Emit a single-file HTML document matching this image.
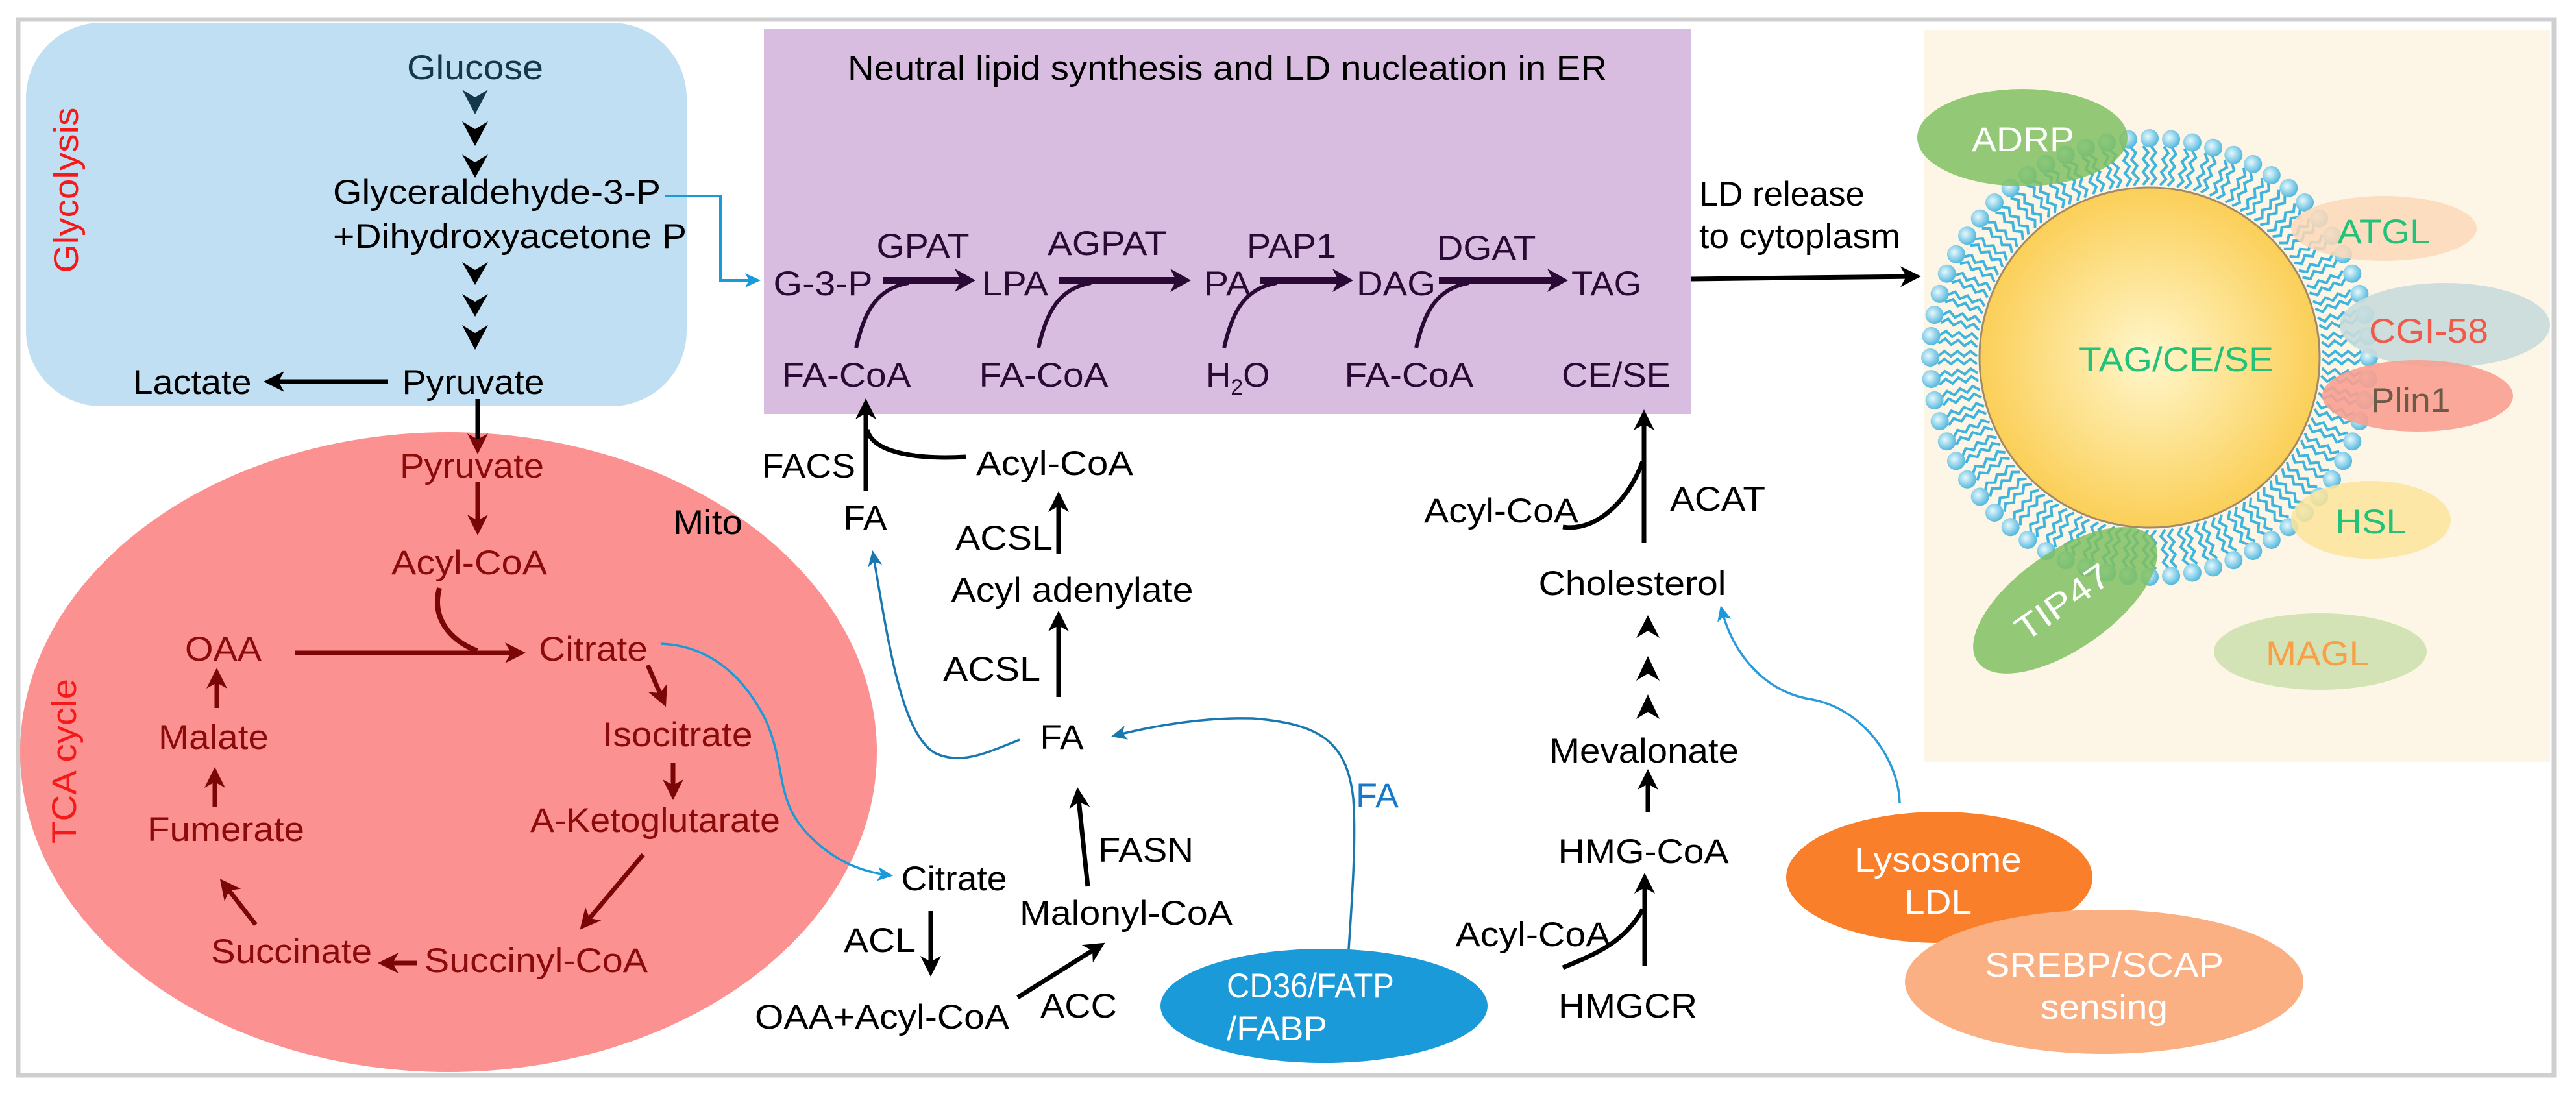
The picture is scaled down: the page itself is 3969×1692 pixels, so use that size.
<!DOCTYPE html>
<html><head><meta charset="utf-8"><style>
html,body{margin:0;padding:0;background:#fff}
svg{display:block}
text{font-family:"Liberation Sans",Arial,sans-serif;font-size:53px}
</style></head><body>
<svg id="s" xmlns="http://www.w3.org/2000/svg" width="3969" height="1692" viewBox="0 0 3969 1692">
<defs>
<marker id="ab" markerUnits="userSpaceOnUse" viewBox="0 0 32 32" refX="22" refY="16" markerWidth="32" markerHeight="32" orient="auto"><path d="M0,0 L32,16 L0,32 L9,16 Z" fill="#000"/></marker>
<marker id="ar" markerUnits="userSpaceOnUse" viewBox="0 0 32 32" refX="22" refY="16" markerWidth="32" markerHeight="32" orient="auto"><path d="M0,0 L32,16 L0,32 L9,16 Z" fill="#7a0606"/></marker>
<marker id="ap" markerUnits="userSpaceOnUse" viewBox="0 0 32 36" refX="22" refY="18" markerWidth="32" markerHeight="36" orient="auto"><path d="M0,0 L32,18 L0,36 L9,18 Z" fill="#2a0a35"/></marker>
<marker id="abl" markerUnits="userSpaceOnUse" viewBox="0 0 24 22" refX="20" refY="11" markerWidth="24" markerHeight="22" orient="auto"><path d="M0,0 L24,11 L0,22 L6,11 Z" fill="#1a9ad8"/></marker>
<marker id="abt" markerUnits="userSpaceOnUse" viewBox="0 0 24 22" refX="20" refY="11" markerWidth="24" markerHeight="22" orient="auto"><path d="M0,0 L24,11 L0,22 L6,11 Z" fill="#1a78b0"/></marker>
<radialGradient id="drop" cx="0.5" cy="0.5" r="0.5"><stop offset="0" stop-color="#fff7cc"/><stop offset="1" stop-color="#fbcf58"/></radialGradient>
<radialGradient id="head" cx="0.4" cy="0.4" r="0.6"><stop offset="0" stop-color="#e8f8fd"/><stop offset="1" stop-color="#55b9de"/></radialGradient>
</defs>

<rect x="28" y="30" width="3907" height="1627" fill="#fff" stroke="#cfcfcf" stroke-width="7"/>

<rect x="40" y="35" width="1018" height="591" rx="116" fill="#c1dff2"/>
<text transform="translate(120,293) rotate(-90)" text-anchor="middle" fill="#f41a1a" font-size="66" textLength="255" lengthAdjust="spacingAndGlyphs">Glycolysis</text>
<text x="732" y="122" text-anchor="middle" fill="#12384a" textLength="210" lengthAdjust="spacingAndGlyphs">Glucose</text>
<g fill="#000">
<polygon points="712,138 732,150 752,138 732,176" fill="#12384a"/>
<polygon points="712,187 732,199 752,187 732,225"/>
<polygon points="712,238 732,250 752,238 732,274"/>
<polygon points="712,404 732,416 752,404 732,439"/>
<polygon points="712,453 732,465 752,453 732,488"/>
<polygon points="712,501 732,513 752,501 732,539"/>
</g>
<text x="513" y="314" textLength="505" lengthAdjust="spacingAndGlyphs">Glyceraldehyde-3-P</text>
<text x="513" y="382" textLength="545" lengthAdjust="spacingAndGlyphs">+Dihydroxyacetone P</text>
<text x="729" y="607" text-anchor="middle" textLength="219" lengthAdjust="spacingAndGlyphs">Pyruvate</text>
<text x="296" y="607" text-anchor="middle" textLength="183" lengthAdjust="spacingAndGlyphs">Lactate</text>
<line x1="598" y1="588" x2="416" y2="588" stroke="#000" stroke-width="7" marker-end="url(#ab)"/>
<polyline points="1025,302 1110,302 1110,432 1168,432" fill="none" stroke="#1a9ad8" stroke-width="4" marker-end="url(#abl)"/>

<ellipse cx="691" cy="1159" rx="660" ry="493" fill="#fc9191"/>
<line x1="736" y1="615" x2="736" y2="690" stroke="#000" stroke-width="7" marker-end="url(#ar)"/>
<g fill="#8b0a0a">
<text x="727" y="736" text-anchor="middle" textLength="222" lengthAdjust="spacingAndGlyphs">Pyruvate</text>
<text x="723" y="885" text-anchor="middle" textLength="240" lengthAdjust="spacingAndGlyphs">Acyl-CoA</text>
<text x="344" y="1018" text-anchor="middle" textLength="118" lengthAdjust="spacingAndGlyphs">OAA</text>
<text x="914" y="1018" text-anchor="middle" textLength="168" lengthAdjust="spacingAndGlyphs">Citrate</text>
<text x="1044" y="1150" text-anchor="middle" textLength="231" lengthAdjust="spacingAndGlyphs">Isocitrate</text>
<text x="817" y="1282" textLength="385" lengthAdjust="spacingAndGlyphs">A-Ketoglutarate</text>
<text x="329" y="1154" text-anchor="middle" textLength="170" lengthAdjust="spacingAndGlyphs">Malate</text>
<text x="348" y="1296" text-anchor="middle" textLength="242" lengthAdjust="spacingAndGlyphs">Fumerate</text>
<text x="449" y="1484" text-anchor="middle" textLength="248" lengthAdjust="spacingAndGlyphs">Succinate</text>
<text x="826" y="1498" text-anchor="middle" textLength="344" lengthAdjust="spacingAndGlyphs">Succinyl-CoA</text>
</g>
<text x="1037" y="823" textLength="107" lengthAdjust="spacingAndGlyphs">Mito</text>
<text transform="translate(117,1173) rotate(-90)" text-anchor="middle" fill="#f41a1a" font-size="64" textLength="254" lengthAdjust="spacingAndGlyphs">TCA cycle</text>
<g stroke="#7a0606" stroke-width="7" fill="none">
<line x1="736" y1="743" x2="736" y2="815" marker-end="url(#ar)"/>
<line x1="455" y1="1006" x2="800" y2="1006" marker-end="url(#ar)"/>
<path d="M677,906 C665,950 690,985 735,1003" stroke-width="8"/>
<line x1="998" y1="1025" x2="1022" y2="1080" marker-end="url(#ar)"/>
<line x1="1037" y1="1175" x2="1037" y2="1223" marker-end="url(#ar)"/>
<line x1="991" y1="1317" x2="900" y2="1425" marker-end="url(#ar)"/>
<line x1="643" y1="1484" x2="592" y2="1484" marker-end="url(#ar)"/>
<line x1="394" y1="1425" x2="345" y2="1362" marker-end="url(#ar)"/>
<line x1="331" y1="1244" x2="331" y2="1192" marker-end="url(#ar)"/>
<line x1="334" y1="1091" x2="334" y2="1039" marker-end="url(#ar)"/>
</g>
<path d="M1018,992 C1100,995 1150,1050 1180,1110 C1215,1190 1190,1240 1260,1300 C1300,1335 1340,1345 1372,1349" fill="none" stroke="#1a9ad8" stroke-width="3.5" marker-end="url(#abl)"/>

<rect x="1177" y="45" width="1428" height="593" fill="#d9bde0"/>
<text x="1891" y="123" text-anchor="middle" textLength="1170" lengthAdjust="spacingAndGlyphs">Neutral lipid synthesis and LD nucleation in ER</text>
<g fill="#2a0a35">
<text x="1268" y="455" text-anchor="middle" textLength="153" lengthAdjust="spacingAndGlyphs">G-3-P</text>
<text x="1564" y="455" text-anchor="middle" textLength="102" lengthAdjust="spacingAndGlyphs">LPA</text>
<text x="1891" y="455" text-anchor="middle" textLength="72" lengthAdjust="spacingAndGlyphs">PA</text>
<text x="2151" y="455" text-anchor="middle" textLength="122" lengthAdjust="spacingAndGlyphs">DAG</text>
<text x="2475" y="455" text-anchor="middle" textLength="108" lengthAdjust="spacingAndGlyphs">TAG</text>
<text x="1422" y="397" text-anchor="middle" textLength="143" lengthAdjust="spacingAndGlyphs">GPAT</text>
<text x="1706" y="393" text-anchor="middle" textLength="184" lengthAdjust="spacingAndGlyphs">AGPAT</text>
<text x="1990" y="397" text-anchor="middle" textLength="138" lengthAdjust="spacingAndGlyphs">PAP1</text>
<text x="2290" y="400" text-anchor="middle" textLength="153" lengthAdjust="spacingAndGlyphs">DGAT</text>
<text x="1304" y="596" text-anchor="middle" textLength="199" lengthAdjust="spacingAndGlyphs">FA-CoA</text>
<text x="1608" y="596" text-anchor="middle" textLength="199" lengthAdjust="spacingAndGlyphs">FA-CoA</text>
<text x="1858" y="596">H<tspan font-size="34" dy="12">2</tspan><tspan dy="-12">O</tspan></text>
<text x="2171" y="596" text-anchor="middle" textLength="199" lengthAdjust="spacingAndGlyphs">FA-CoA</text>
<text x="2490" y="596" text-anchor="middle" textLength="168" lengthAdjust="spacingAndGlyphs">CE/SE</text>
</g>
<g stroke="#2a0a35" stroke-width="10" fill="none">
<line x1="1360" y1="432" x2="1493" y2="432" marker-end="url(#ap)"/>
<line x1="1631" y1="432" x2="1825" y2="432" marker-end="url(#ap)"/>
<line x1="1942" y1="432" x2="2075" y2="432" marker-end="url(#ap)"/>
<line x1="2217" y1="432" x2="2406" y2="432" marker-end="url(#ap)"/>
</g>
<g stroke="#2a0a35" stroke-width="6" fill="none">
<path d="M1319,536 C1332,480 1350,445 1400,436"/>
<path d="M1600,536 C1613,480 1631,445 1681,436"/>
<path d="M1886,536 C1899,480 1917,445 1967,436"/>
<path d="M2182,536 C2195,480 2213,445 2263,436"/>
</g>
<text x="2618" y="317" textLength="255" lengthAdjust="spacingAndGlyphs">LD release</text>
<text x="2618" y="382" textLength="310" lengthAdjust="spacingAndGlyphs">to cytoplasm</text>
<line x1="2605" y1="430" x2="2950" y2="426" stroke="#000" stroke-width="7" marker-end="url(#ab)"/>

<g stroke="#000" stroke-width="7" fill="none">
<line x1="1334" y1="757" x2="1334" y2="624" marker-end="url(#ab)"/>
<path d="M1488,704 C1420,708 1345,700 1336,662"/>
<line x1="1631" y1="854" x2="1631" y2="767" marker-end="url(#ab)"/>
<line x1="1631" y1="1074" x2="1631" y2="951" marker-end="url(#ab)"/>
<line x1="1676" y1="1366" x2="1661" y2="1223" marker-end="url(#ab)"/>
<line x1="1434" y1="1404" x2="1434" y2="1495" marker-end="url(#ab)"/>
<line x1="1568" y1="1537" x2="1694" y2="1458" marker-end="url(#ab)"/>
</g>
<text x="1246" y="736" text-anchor="middle" textLength="144" lengthAdjust="spacingAndGlyphs">FACS</text>
<text x="1333" y="816" text-anchor="middle" textLength="67" lengthAdjust="spacingAndGlyphs">FA</text>
<text x="1625" y="732" text-anchor="middle" textLength="242" lengthAdjust="spacingAndGlyphs">Acyl-CoA</text>
<text x="1622" y="847" text-anchor="end" textLength="150" lengthAdjust="spacingAndGlyphs">ACSL</text>
<text x="1652" y="927" text-anchor="middle" textLength="373" lengthAdjust="spacingAndGlyphs">Acyl adenylate</text>
<text x="1603" y="1049" text-anchor="end" textLength="150" lengthAdjust="spacingAndGlyphs">ACSL</text>
<text x="1636" y="1154" text-anchor="middle" textLength="67" lengthAdjust="spacingAndGlyphs">FA</text>
<text x="1692" y="1328" textLength="147" lengthAdjust="spacingAndGlyphs">FASN</text>
<text x="1470" y="1372" text-anchor="middle" textLength="163" lengthAdjust="spacingAndGlyphs">Citrate</text>
<text x="1411" y="1467" text-anchor="end" textLength="111" lengthAdjust="spacingAndGlyphs">ACL</text>
<text x="1359" y="1585" text-anchor="middle" textLength="392" lengthAdjust="spacingAndGlyphs">OAA+Acyl-CoA</text>
<text x="1603" y="1568" textLength="118" lengthAdjust="spacingAndGlyphs">ACC</text>
<text x="1735" y="1425" text-anchor="middle" textLength="328" lengthAdjust="spacingAndGlyphs">Malonyl-CoA</text>
<path d="M1571,1140 C1520,1160 1480,1180 1440,1160 C1390,1130 1370,1000 1345,852" fill="none" stroke="#1a78b0" stroke-width="3.5" marker-end="url(#abt)"/>
<path d="M2078,1463 C2082,1400 2090,1300 2085,1230 C2075,1140 2030,1115 1930,1107 C1850,1105 1770,1120 1716,1134" fill="none" stroke="#1a78b0" stroke-width="3.5" marker-end="url(#abt)"/>
<text x="2089" y="1244" fill="#1a78c8" textLength="66" lengthAdjust="spacingAndGlyphs">FA</text>
<ellipse cx="2040" cy="1550" rx="252" ry="88" fill="#1a9ad8"/>
<text x="1890" y="1537" fill="#fff" textLength="258" lengthAdjust="spacingAndGlyphs">CD36/FATP</text>
<text x="1890" y="1603" fill="#fff" textLength="155" lengthAdjust="spacingAndGlyphs">/FABP</text>

<g stroke="#000" stroke-width="7" fill="none">
<line x1="2533" y1="837" x2="2533" y2="641" marker-end="url(#ab)"/>
<path d="M2408,812 C2460,820 2510,770 2531,711"/>
<line x1="2539" y1="1251" x2="2539" y2="1195" marker-end="url(#ab)"/>
<line x1="2534" y1="1488" x2="2534" y2="1355" marker-end="url(#ab)"/>
<path d="M2408,1491 C2460,1470 2505,1450 2531,1401"/>
</g>
<g fill="#000">
<polygon points="2521,983 2539,972 2557,983 2539,948"/>
<polygon points="2521,1049 2539,1038 2557,1049 2539,1011"/>
<polygon points="2521,1108 2539,1097 2557,1108 2539,1070"/>
</g>
<text x="2313" y="805" text-anchor="middle" textLength="238" lengthAdjust="spacingAndGlyphs">Acyl-CoA</text>
<text x="2573" y="787" textLength="147" lengthAdjust="spacingAndGlyphs">ACAT</text>
<text x="2515" y="917" text-anchor="middle" textLength="289" lengthAdjust="spacingAndGlyphs">Cholesterol</text>
<text x="2533" y="1175" text-anchor="middle" textLength="292" lengthAdjust="spacingAndGlyphs">Mevalonate</text>
<text x="2532" y="1330" text-anchor="middle" textLength="263" lengthAdjust="spacingAndGlyphs">HMG-CoA</text>
<text x="2362" y="1458" text-anchor="middle" textLength="239" lengthAdjust="spacingAndGlyphs">Acyl-CoA</text>
<text x="2508" y="1568" text-anchor="middle" textLength="214" lengthAdjust="spacingAndGlyphs">HMGCR</text>
<path d="M2927,1237 C2925,1170 2870,1090 2787,1077 C2720,1065 2670,1010 2652,937" fill="none" stroke="#2a9ad8" stroke-width="3.5" marker-end="url(#abl)"/>
<ellipse cx="2988" cy="1352" rx="236" ry="101" fill="#f97f2a"/>
<text x="2986" y="1343" text-anchor="middle" fill="#fff" textLength="258" lengthAdjust="spacingAndGlyphs">Lysosome</text>
<text x="2986" y="1408" text-anchor="middle" fill="#fff" textLength="104" lengthAdjust="spacingAndGlyphs">LDL</text>
<ellipse cx="3242" cy="1513" rx="307" ry="111" fill="#fbb083"/>
<text x="3242" y="1505" text-anchor="middle" fill="#fff" textLength="368" lengthAdjust="spacingAndGlyphs">SREBP/SCAP</text>
<text x="3242" y="1570" text-anchor="middle" fill="#fff" textLength="196" lengthAdjust="spacingAndGlyphs">sensing</text>

<rect x="2965" y="46" width="964" height="1128" fill="#fdf6e6"/>
<g id="mem"></g>
<circle cx="3312" cy="551" r="262" fill="url(#drop)" stroke="#a08a68" stroke-width="3"/>
<text x="3353" y="572" text-anchor="middle" fill="#22c27a" textLength="300" lengthAdjust="spacingAndGlyphs">TAG/CE/SE</text>
<ellipse cx="3116" cy="212" rx="162" ry="75" fill="#7fbf62" opacity="0.85"/>
<text x="3117" y="233" text-anchor="middle" fill="#fff" textLength="158" lengthAdjust="spacingAndGlyphs">ADRP</text>
<ellipse cx="3673" cy="352" rx="143" ry="50" fill="#fcd8b8" opacity="0.85"/>
<text x="3673" y="375" text-anchor="middle" fill="#22c27a" textLength="143" lengthAdjust="spacingAndGlyphs">ATGL</text>
<ellipse cx="3767" cy="501" rx="162" ry="65" fill="#c8dcdc" opacity="0.9"/>
<text x="3742" y="528" text-anchor="middle" fill="#f05a4a" textLength="184" lengthAdjust="spacingAndGlyphs">CGI-58</text>
<ellipse cx="3725" cy="610" rx="147" ry="55" fill="#f8a090" opacity="0.9"/>
<text x="3714" y="635" text-anchor="middle" fill="#6b5a4a" textLength="123" lengthAdjust="spacingAndGlyphs">Plin1</text>
<ellipse cx="3653" cy="801" rx="123" ry="60" fill="#fbe49a" opacity="0.85"/>
<text x="3653" y="822" text-anchor="middle" fill="#22c27a" textLength="110" lengthAdjust="spacingAndGlyphs">HSL</text>
<g transform="translate(3182,925) rotate(-35)">
<ellipse cx="0" cy="0" rx="165" ry="75" fill="#7fbf62" opacity="0.85"/>
<text x="-5" y="18" text-anchor="middle" fill="#fff" textLength="165" lengthAdjust="spacingAndGlyphs">TIP47</text>
</g>
<ellipse cx="3575" cy="1004" rx="164" ry="59" fill="#d3e3b5"/>
<text x="3571" y="1025" text-anchor="middle" fill="#f8a048" textLength="160" lengthAdjust="spacingAndGlyphs">MAGL</text>
</svg>
<script>
(function(){
var g=document.getElementById('mem'),cx=3312,cy=551,N=64,h='';
for(var i=0;i<N;i++){
 var a=i/N*2*Math.PI,c=Math.cos(a),s=Math.sin(a),px=-s,py=c;
 for(var k=-1;k<=1;k+=2){
  var o=k*6,pts=[];
  for(var j=0;j<=6;j++){var r=266+j*10,w=(j%2?4:-4);pts.push((cx+c*r+px*(o+w)).toFixed(1)+','+(cy+s*r+py*(o+w)).toFixed(1));}
  h+='<polyline points="'+pts.join(' ')+'" fill="none" stroke="#3fb4dc" stroke-width="4"/>';
 }
 h+='<circle cx="'+(cx+c*338).toFixed(1)+'" cy="'+(cy+s*338).toFixed(1)+'" r="14" fill="url(#head)"/>';
}
g.innerHTML=h;
})();
</script>
</body></html>
